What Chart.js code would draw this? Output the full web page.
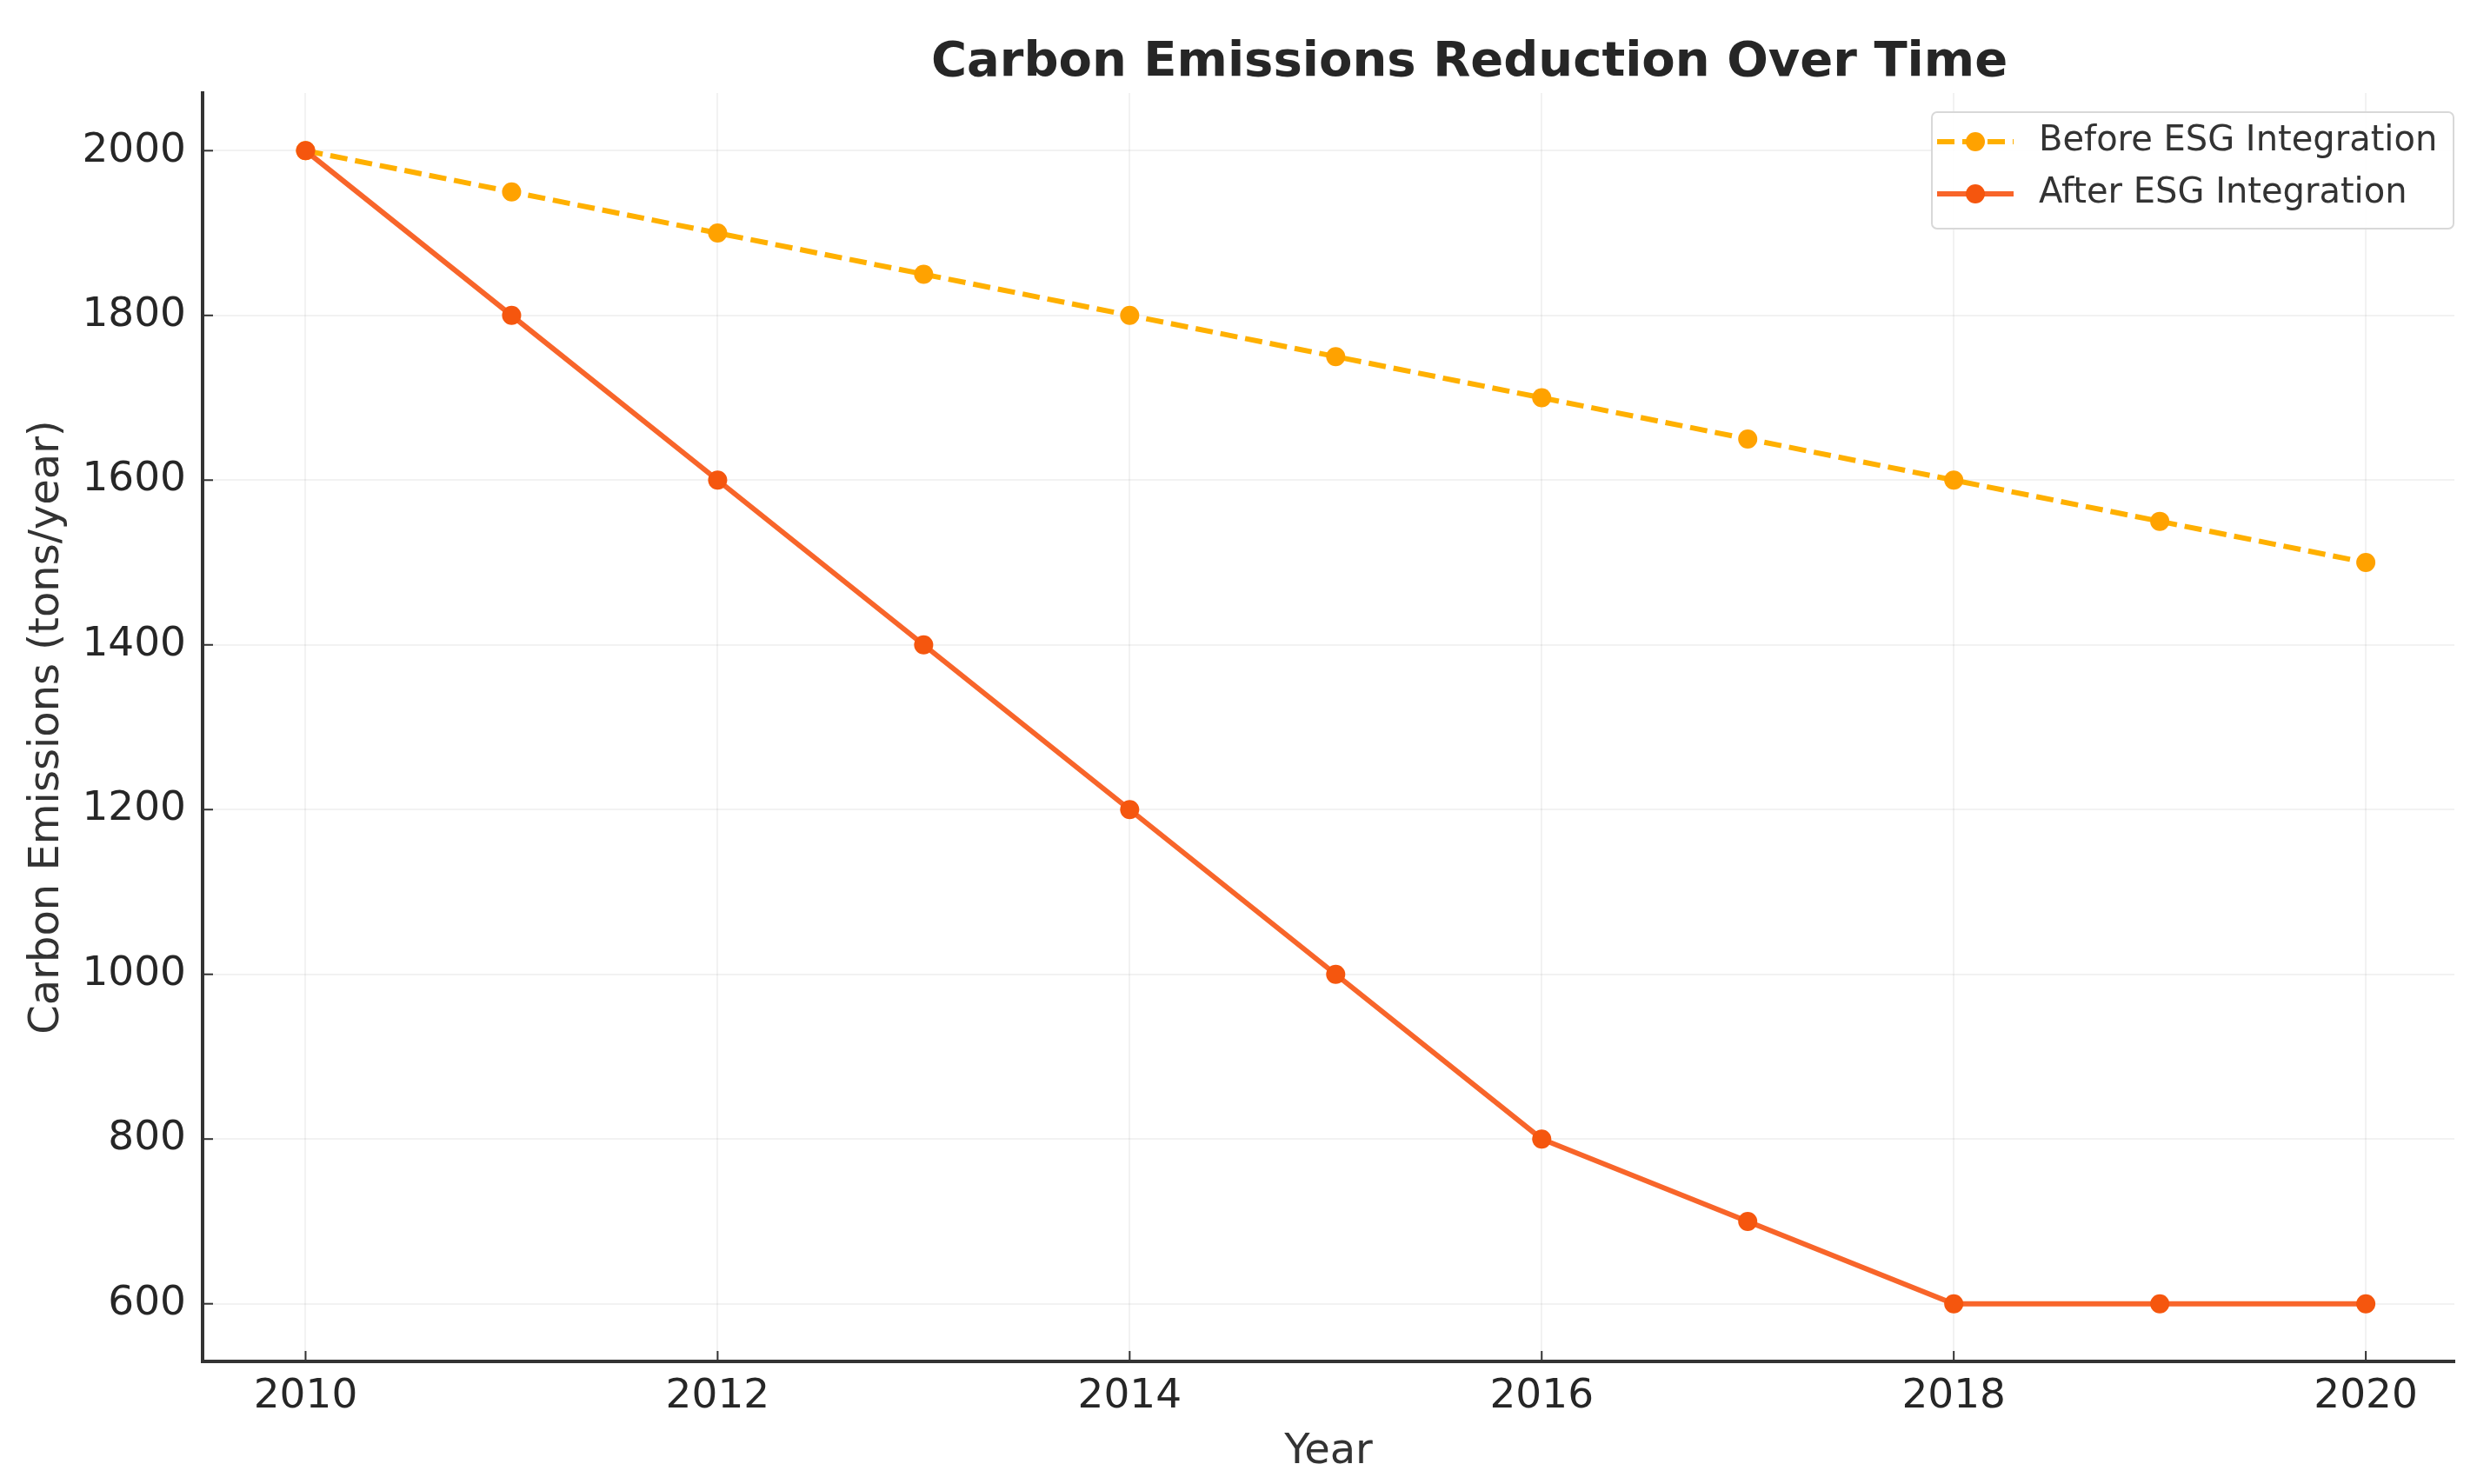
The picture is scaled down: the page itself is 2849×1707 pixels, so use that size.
<!DOCTYPE html>
<html>
<head>
<meta charset="utf-8">
<script src="https://cdn.jsdelivr.net/npm/chart.js@4.4.1/dist/chart.umd.min.js"></script>
<style>
  html, body { margin: 0; padding: 0; background: #fff; }
  canvas { display: block; }
</style>
</head>
<body>
<canvas id="chart" width="2849" height="1707"></canvas>
<script>
const years = [2010, 2011, 2012, 2013, 2014, 2015, 2016, 2017, 2018, 2019, 2020];
const beforeEsg = [2000, 1950, 1900, 1850, 1800, 1750, 1700, 1650, 1600, 1550, 1500];
const afterEsg = [2000, 1800, 1600, 1400, 1200, 1000, 800, 700, 600, 600, 600];
const chartTitle = 'Carbon Emissions Reduction Over Time';
const xTitle = 'Year';
const yTitle = 'Carbon Emissions (tons/year)';

const beforeLine = '#FFB000', beforeDot = '#FFA200';
const afterLine = '#F8652A', afterDot = '#F5560E';

Chart.defaults.font.family = '"DejaVu Sans", sans-serif';
Chart.defaults.color = '#262626';

// title, inward tick marks and the boxed legend
const extras = {
    id: 'extras',
    afterDraw(chart) {
        const ctx = chart.ctx;
        const {left, bottom} = chart.chartArea;
        const xs = chart.scales.x, ys = chart.scales.y;
        ctx.save();
        ctx.strokeStyle = '#333';
        ctx.lineWidth = 2;
        ys.ticks.forEach(t => {
            const p = ys.getPixelForValue(t.value);
            ctx.beginPath(); ctx.moveTo(left, p); ctx.lineTo(left + 12, p); ctx.stroke();
        });
        xs.ticks.forEach(t => {
            const p = xs.getPixelForValue(t.value);
            ctx.beginPath(); ctx.moveTo(p, bottom); ctx.lineTo(p, bottom - 12); ctx.stroke();
        });

        ctx.fillStyle = '#262626';
        ctx.font = 'bold 56px "DejaVu Sans"';
        ctx.textAlign = 'center';
        ctx.textBaseline = 'middle';
        ctx.fillText(chartTitle, 1690, 72);

        // legend
        const bx = 2222, by = 129, bw = 600, bh = 134;
        ctx.fillStyle = 'rgba(255,255,255,0.85)';
        ctx.strokeStyle = '#d8d8d8';
        ctx.lineWidth = 2;
        ctx.beginPath();
        ctx.roundRect(bx, by, bw, bh, 6);
        ctx.fill(); ctx.stroke();

        ctx.font = '40px "DejaVu Sans"';
        ctx.textAlign = 'left';
        chart.data.datasets.slice().sort((a, b) => b.order - a.order).forEach((ds, i) => {
            const y = 163 + i * 60;
            ctx.strokeStyle = ds.borderColor;
            ctx.lineWidth = 6;
            ctx.setLineDash(ds.borderDash || []);
            ctx.beginPath(); ctx.moveTo(2228, y); ctx.lineTo(2316, y); ctx.stroke();
            ctx.setLineDash([]);
            ctx.fillStyle = ds.pointBackgroundColor;
            ctx.beginPath(); ctx.arc(2272, y, 11, 0, Math.PI * 2); ctx.fill();
            ctx.fillStyle = '#333';
            ctx.fillText(ds.label, 2345, y);
        });
        ctx.restore();
    }
};

new Chart(document.getElementById('chart'), {
    type: 'line',
    data: {
        datasets: [
            {
                label: 'Before ESG Integration',
                data: years.map((y, i) => ({x: y, y: beforeEsg[i]})),
                borderColor: beforeLine,
                borderWidth: 6,
                borderDash: [20, 9],
                pointRadius: 11,
                pointBackgroundColor: beforeDot,
                pointBorderColor: beforeDot,
                pointBorderWidth: 0,
                order: 1
            },
            {
                label: 'After ESG Integration',
                data: years.map((y, i) => ({x: y, y: afterEsg[i]})),
                borderColor: afterLine,
                borderWidth: 6,
                pointRadius: 11,
                pointBackgroundColor: afterDot,
                pointBorderColor: afterDot,
                pointBorderWidth: 0,
                order: 0
            }
        ]
    },
    options: {
        responsive: false,
        animation: false,
        devicePixelRatio: 1,
        layout: {
            padding: {left: 0, top: 107, right: 26, bottom: 0}
        },
        plugins: {
            legend: {display: false},
            title: {display: false},
            tooltip: {enabled: false}
        },
        scales: {
            x: {
                type: 'linear',
                min: 2009.5,
                max: 2020.43,
                afterFit: s => { s.height = 141; },
                ticks: {
                    stepSize: 2,
                    includeBounds: false,
                    padding: 13,
                    font: {size: 47},
                    color: '#262626',
                    maxRotation: 0,
                    callback: v => String(v)
                },
                grid: {
                    color: 'rgba(0,0,0,0.05)',
                    lineWidth: 2,
                    drawTicks: false
                },
                border: {display: true, color: '#333', width: 4},
                title: {
                    display: true,
                    text: xTitle,
                    font: {size: 48},
                    color: '#333',
                    padding: {top: 0, bottom: 8}
                }
            },
            y: {
                min: 530,
                max: 2070,
                afterFit: s => { s.width = 233; },
                ticks: {
                    stepSize: 200,
                    includeBounds: false,
                    padding: 19,
                    font: {size: 47},
                    color: '#262626',
                    callback: v => String(v)
                },
                grid: {
                    color: 'rgba(0,0,0,0.05)',
                    lineWidth: 2,
                    drawTicks: false
                },
                border: {display: true, color: '#333', width: 4},
                title: {
                    display: true,
                    text: yTitle,
                    font: {size: 48},
                    color: '#333',
                    padding: {top: 26, bottom: 0}
                }
            }
        }
    },
    plugins: [extras]
});
</script>
</body>
</html>
